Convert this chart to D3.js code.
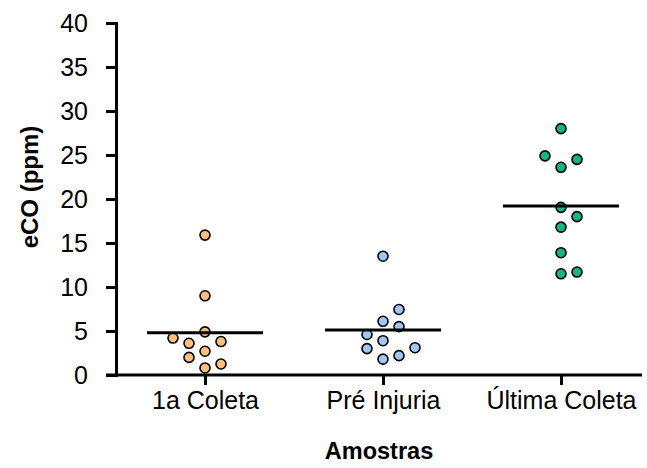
<!DOCTYPE html>
<html>
<head>
<meta charset="utf-8">
<script src="https://cdn.jsdelivr.net/npm/d3@7"></script>
<style>
  body { margin: 0; background: #fff; }
  text { font-family: "Liberation Sans", Arial, sans-serif; }
</style>
</head>
<body>
<svg id="chart" width="647" height="468"></svg>
<script>
'use strict';

// data (ppm), one array per group
var categories = ['1a Coleta', 'Pré Injuria', 'Última Coleta'];
var coleta1 = [4.9, 2.7, 0.8, 3.8, 3.6, 4.2, 1.25, 2.0, 9.0, 15.9];
var preInjuria = [6.1, 3.9, 1.8, 13.5, 7.45, 5.5, 4.6, 2.2, 3.0, 3.1];
var ultimaColeta = [23.6, 24.5, 24.9, 28.0, 19.05, 18.0, 16.8, 13.9, 11.5, 11.7];
var yTicks = [0, 5, 10, 15, 20, 25, 30, 35, 40];

var groups = [coleta1, preInjuria, ultimaColeta];
var fills = ['#fdbf80', '#9fc6f4', '#17b384'];

var svg = d3.select('#chart');

var y = d3.scaleLinear().domain([0, 40]).range([375, 23]);
var x = d3.scalePoint().domain(categories).range([116, 650]).padding(0.5);

// simple column swarm: lane 0 first, then nearest free lanes on either side
function swarm(values, lanePx, minDy) {
  var placed = [];
  values.forEach(function(v) {
    var py = y(v);
    var free = function(k) {
      return placed.every(function(p) { return p.k !== k || Math.abs(p.py - py) >= minDy; });
    };
    var nearest = function(k) {
      return d3.min(placed, function(p) { return Math.hypot((p.k - k) * lanePx, p.py - py); }) || Infinity;
    };
    var lane = 0;
    if (!free(0)) {
      for (var d = 1; d < 6; d++) {
        var r = free(d), l = free(-d);
        if (r && l) { lane = nearest(-d) > nearest(d) + 1e-6 ? -d : d; break; }
        if (r) { lane = d; break; }
        if (l) { lane = -d; break; }
      }
    }
    placed.push({ v: v, k: lane, py: py });
  });
  return placed;
}

// axes
var yAxis = d3.axisLeft(y).tickValues(yTicks).tickSize(10).tickSizeOuter(0).tickPadding(18);
var gy = svg.append('g').attr('transform', 'translate(116,0)').call(yAxis);
gy.select('.domain').attr('stroke-width', 3).attr('stroke-linecap', 'square');
gy.selectAll('.tick line').attr('stroke-width', 3);
gy.selectAll('.tick text').style('font-size', '25px').attr('fill', '#000');

var xAxis = d3.axisBottom(x).tickSize(10).tickSizeOuter(0).tickPadding(6);
var gx = svg.append('g').attr('transform', 'translate(0,375)').call(xAxis);
gx.select('.domain').attr('d', 'M106,0H642').attr('stroke-width', 3);
gx.selectAll('.tick line').attr('stroke-width', 3);
gx.selectAll('.tick text').style('font-size', '25px').attr('fill', '#000');

// points
groups.forEach(function(vals, i) {
  var cx = x(categories[i]);
  var pts = swarm(vals, 16, 12.5);
  svg.append('g').selectAll('circle')
    .data(pts)
    .enter().append('circle')
    .attr('cx', function(d) { return cx + d.k * 16; })
    .attr('cy', function(d) { return d.py; })
    .attr('r', 5)
    .attr('fill', fills[i])
    .attr('stroke', '#000')
    .attr('stroke-width', 1.6);

  var m = d3.mean(vals);
  svg.append('line')
    .attr('x1', cx - 58).attr('x2', cx + 58)
    .attr('y1', y(m)).attr('y2', y(m))
    .attr('stroke', '#000').attr('stroke-width', 3);
});

// titles
svg.append('text')
  .attr('transform', 'translate(38,' + 187 + ') rotate(-90)')
  .attr('text-anchor', 'middle')
  .style('font-size', '24px').style('font-weight', 'bold')
  .text('eCO (ppm)');

svg.append('text')
  .attr('x', 379).attr('y', 459)
  .attr('text-anchor', 'middle')
  .style('font-size', '23.5px').style('font-weight', 'bold')
  .text('Amostras');
</script>
</body>
</html>
